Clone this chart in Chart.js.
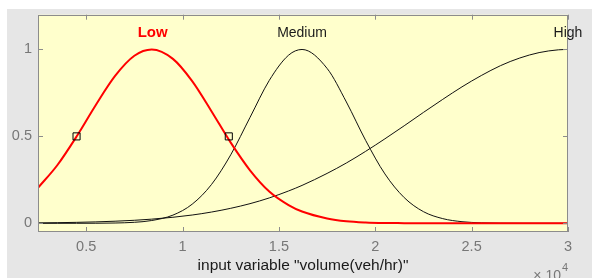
<!DOCTYPE html>
<html>
<head>
<meta charset="utf-8">
<script src="https://cdn.jsdelivr.net/npm/chart.js@4/dist/chart.umd.min.js"></script>
<style>
  html, body { margin: 0; padding: 0; background: #ffffff; }
  #wrap { position: relative; width: 592px; height: 278px; overflow: hidden; }
  #bg { position: absolute; left: 7px; top: 9px; width: 585px; height: 269px; background: #e6e6e6; }
  #c { position: absolute; left: 0; top: 0; }
</style>
</head>
<body>
<div id="wrap">
  <div id="bg"></div>
  <canvas id="c" width="592" height="278"></canvas>
</div>
<script>
// ---- data (x in units of 10^4 veh/hr) ----
const xValues = [0.25,0.35,0.45,0.55,0.65,0.75,0.84,0.95,1.05,1.15,1.25,1.35,1.45,1.55,1.62,1.75,1.85,1.95,2.05,2.15,2.25,2.35,2.45,2.55,2.65,2.75,2.85,2.95,3.0];
const lowValues = [0.204,0.334,0.499,0.681,0.848,0.964,1.0,0.946,0.818,0.645,0.464,0.305,0.183,0.105,0.068,0.028,0.012,0.005,0.002,0.001,0,0,0,0,0,0,0,0,0];
const mediumValues = [0,0,0.0001,0.0004,0.0017,0.0058,0.016,0.047,0.110,0.223,0.394,0.609,0.822,0.967,1.0,0.891,0.698,0.477,0.284,0.148,0.067,0.027,0.0092,0.0028,0.0007,0.0002,0,0,0];
const highValues = [0.0024,0.0036,0.0055,0.0082,0.0121,0.0174,0.0239,0.0347,0.0477,0.0647,0.0863,0.113,0.146,0.186,0.218,0.287,0.347,0.414,0.486,0.561,0.638,0.713,0.785,0.850,0.907,0.951,0.982,0.998,1.0];
const markerX = [0.45, 1.24];
const markerY = [0.5, 0.5];
const mfNames = ['Low', 'Medium', 'High'];
const mfLabelX = [0.845, 1.62, 3.0];
const mfLabelY = 1.1;
const xTicks = [0.5, 1, 1.5, 2, 2.5, 3];
const xTickLabels = ['0.5', '1', '1.5', '2', '2.5', '3'];
const yTicks = [0, 0.5, 1];
const yTickLabels = ['0', '0.5', '1'];
const xTitle = 'input variable "volume(veh/hr)"';

const FONT = '"Liberation Sans", Arial, sans-serif';
const pts = ys => xValues.map((x, i) => ({ x: x, y: ys[i] }));

const decor = {
  id: 'decor',
  beforeDraw(chart) {
    const { ctx, chartArea: a } = chart;
    ctx.save();
    ctx.fillStyle = '#ffffcc';
    ctx.fillRect(a.left, a.top, a.right - a.left, a.bottom - a.top);
    ctx.restore();
  },
  afterDraw(chart) {
    const { ctx, chartArea: a, scales } = chart;
    const xs = scales.x, ys = scales.y;
    ctx.save();
    // box
    ctx.strokeStyle = '#8c8c8c';
    ctx.lineWidth = 1;
    ctx.strokeRect(Math.round(a.left) + 0.5, Math.round(a.top) + 0.5,
                   Math.round(a.right - a.left) - 1, Math.round(a.bottom - a.top) - 1);
    // inward ticks
    ctx.beginPath();
    xTicks.forEach(v => {
      const px = Math.round(xs.getPixelForValue(v)) + 0.5;
      ctx.moveTo(px, a.bottom); ctx.lineTo(px, a.bottom - 5);
      ctx.moveTo(px, a.top); ctx.lineTo(px, a.top + 5);
    });
    yTicks.forEach(v => {
      const py = Math.round(ys.getPixelForValue(v)) + 0.5;
      ctx.moveTo(a.left, py); ctx.lineTo(a.left + 5, py);
      ctx.moveTo(a.right, py); ctx.lineTo(a.right - 5, py);
    });
    ctx.stroke();
    // membership function names
    ctx.textAlign = 'center';
    ctx.textBaseline = 'alphabetic';
    mfNames.forEach((n, i) => {
      const px = xs.getPixelForValue(mfLabelX[i]);
      const py = ys.getPixelForValue(mfLabelY) + 5;
      if (i === 0) { ctx.fillStyle = '#ff0000'; ctx.font = 'bold 15px ' + FONT; }
      else { ctx.fillStyle = '#1a1a1a'; ctx.font = '14px ' + FONT; }
      ctx.fillText(n, px, py);
    });
    // exponent
    ctx.fillStyle = '#777777';
    ctx.textAlign = 'right';
    ctx.font = '14px ' + FONT;
    ctx.fillText('\u00d7 10', 561, 280);
    ctx.textAlign = 'left';
    ctx.font = '11px ' + FONT;
    ctx.fillText('4', 562, 271);
    ctx.restore();
  }
};

new Chart(document.getElementById('c'), {
  type: 'line',
  data: {
    datasets: [
      { label: 'markers', data: markerX.map((x, i) => ({ x: x, y: markerY[i] })), showLine: false,
        pointStyle: 'rect', pointRadius: 5, pointBorderColor: '#000000', pointBackgroundColor: 'rgba(0,0,0,0)',
        pointBorderWidth: 1, pointHoverRadius: 5 },
      { label: mfNames[0], data: pts(lowValues), borderColor: '#ff0000', borderWidth: 2,
        pointRadius: 0, cubicInterpolationMode: 'monotone', fill: false },
      { label: mfNames[1], data: pts(mediumValues), borderColor: '#111111', borderWidth: 1,
        pointRadius: 0, cubicInterpolationMode: 'monotone', fill: false },
      { label: mfNames[2], data: pts(highValues), borderColor: '#111111', borderWidth: 1,
        pointRadius: 0, cubicInterpolationMode: 'monotone', fill: false }
    ]
  },
  options: {
    responsive: false,
    animation: false,
    devicePixelRatio: 1,
    layout: { padding: { top: 12, right: 24, left: 0, bottom: 0 } },
    plugins: { legend: { display: false }, tooltip: { enabled: false } },
    scales: {
      x: {
        type: 'linear', min: 0.25, max: 3,
        grid: { display: false, drawTicks: false },
        border: { display: false },
        afterBuildTicks: s => { s.ticks = xTicks.map(v => ({ value: v })); },
        afterFit: s => { s.height = 46; },
        ticks: { color: '#777777', padding: 6, maxRotation: 0, autoSkip: false,
                 font: { size: 14.5, family: FONT },
                 callback: (v) => { const i = xTicks.indexOf(v); return i >= 0 ? xTickLabels[i] : ''; } },
        title: { display: true, text: xTitle, color: '#1a1a1a', font: { size: 15.5, family: FONT },
                 padding: { top: 0, bottom: 3 } }
      },
      y: {
        type: 'linear', min: -0.05, max: 1.2,
        grid: { display: false, drawTicks: false },
        border: { display: false },
        afterBuildTicks: s => { s.ticks = yTicks.map(v => ({ value: v })); },
        afterFit: s => { s.width = 38; },
        ticks: { color: '#777777', padding: 6, autoSkip: false,
                 font: { size: 14.5, family: FONT },
                 callback: (v) => { const i = yTicks.indexOf(v); return i >= 0 ? yTickLabels[i] : ''; } }
      }
    }
  },
  plugins: [decor]
});
</script>
</body>
</html>
